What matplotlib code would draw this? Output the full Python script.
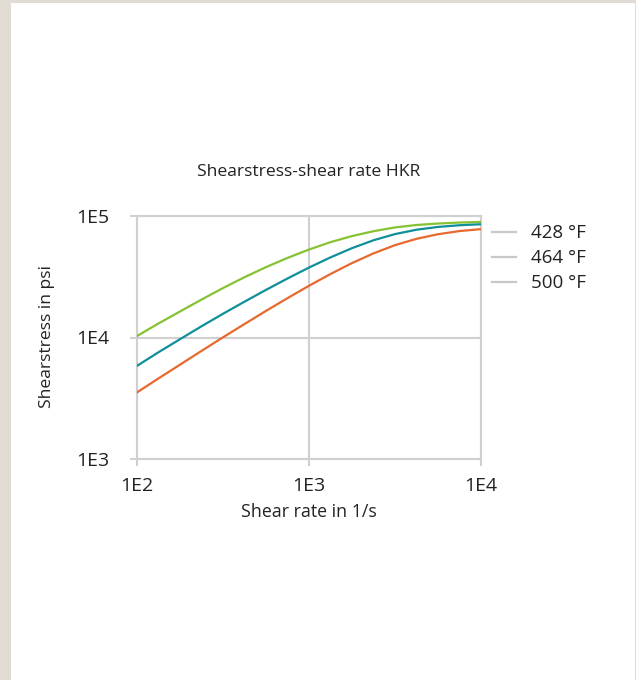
import matplotlib

matplotlib.use("Agg")
import matplotlib.pyplot as plt
from matplotlib.lines import Line2D
from matplotlib.patches import Rectangle
from matplotlib.ticker import FixedLocator, NullLocator

plt.rcParams["font.family"] = ["Open Sans", "DejaVu Sans"]

# shear rate (1/s), read every 1/8 decade
shear_rate = [100, 133, 178, 237, 316, 422, 562, 750, 1000,
              1334, 1778, 2371, 3162, 4217, 5623, 7499, 10000]

# shear stress (psi) per temperature
stress_428 = [10250, 12980, 16340, 20450, 25450, 31310, 37870, 45130, 52890,
              60900, 68330, 74920, 80520, 84330, 86700, 88310, 89330]
stress_464 = [5820, 7520, 9660, 12330, 15630, 19680, 24600, 30550, 37580,
              45600, 54330, 63100, 70960, 77090, 81280, 83950, 85510]
stress_500 = [3520, 4580, 5960, 7730, 10000, 12880, 16520, 21040, 26610,
              33270, 40930, 49200, 57540, 64860, 70790, 75160, 77980]

labels = ["428 °F", "464 °F", "500 °F"]
colors = ["#86C232", "#0E8F9A", "#E8692D"]

x_ticks = [1e2, 1e3, 1e4]
x_tick_labels = ["1E2", "1E3", "1E4"]
y_ticks = [1e3, 1e4, 1e5]
y_tick_labels = ["1E3", "1E4", "1E5"]

GRID = "#D0D0D0"
TEXT = "#222222"

fig = plt.figure(figsize=(6.36, 6.8), dpi=100)
fig.patch.set_facecolor("white")

# page border strips
border = "#E0DCD4"
fig.add_artist(Rectangle((0, 0), 11 / 636, 1, transform=fig.transFigure,
                         color=border, lw=0, zorder=0))
fig.add_artist(Rectangle((0, 1 - 3 / 680), 1, 3 / 680, transform=fig.transFigure,
                         color=border, lw=0, zorder=0))
fig.add_artist(Rectangle((1 - 1.5 / 636, 0), 1.5 / 636, 1, transform=fig.transFigure,
                         color=border, lw=0, zorder=0))

ax = fig.add_axes([136.7 / 636, 1 - 459 / 680, (481 - 136.7) / 636, (459 - 216) / 680])

for ys, c in zip((stress_428, stress_464, stress_500), colors):
    ax.plot(shear_rate, ys, color=c, linewidth=1.6, solid_joinstyle="round",
            zorder=3)

ax.set_xscale("log")
ax.set_yscale("log")
ax.set_xlim(1e2, 1e4)
ax.set_ylim(1e3, 1e5)
ax.xaxis.set_major_locator(FixedLocator(x_ticks))
ax.yaxis.set_major_locator(FixedLocator(y_ticks))
ax.xaxis.set_minor_locator(NullLocator())
ax.yaxis.set_minor_locator(NullLocator())
ax.set_xticklabels(x_tick_labels)
ax.set_yticklabels(y_tick_labels)

ax.grid(True, color=GRID, linewidth=1.5)
for s in ax.spines.values():
    s.set_color(GRID)
    s.set_linewidth(1.5)
ax.tick_params(axis="both", length=5, width=1.5, color=GRID,
               labelsize=14, labelcolor=TEXT)
ax.tick_params(axis="x", pad=8)
ax.tick_params(axis="y", pad=15)

fig.text(0.4855, 1 - 172 / 680, "Shearstress-shear rate HKR", ha="center",
         va="center", fontsize=12.6, color=TEXT)
fig.text(0.4855, 1 - 512 / 680, "Shear rate in 1/s", ha="center",
         va="center", fontsize=12.8, color=TEXT)
fig.text(47 / 636, 1 - 336 / 680, "Shearstress in psi", ha="center",
         va="center", rotation=90, fontsize=12.6, color=TEXT)

handles = [Line2D([], [], color="#C8C8C8", linewidth=1.6) for _ in labels]
ax.legend(handles, labels, loc="center left",
          bbox_to_anchor=((492 - 136.7) / 344.3, (459 - 258.3) / 243),
          frameon=False, fontsize=13.5, handlelength=1.28, handletextpad=0.8,
          labelspacing=0.38, borderpad=0, borderaxespad=0, labelcolor=TEXT)

fig.savefig("out.png", dpi=100, facecolor="white")
